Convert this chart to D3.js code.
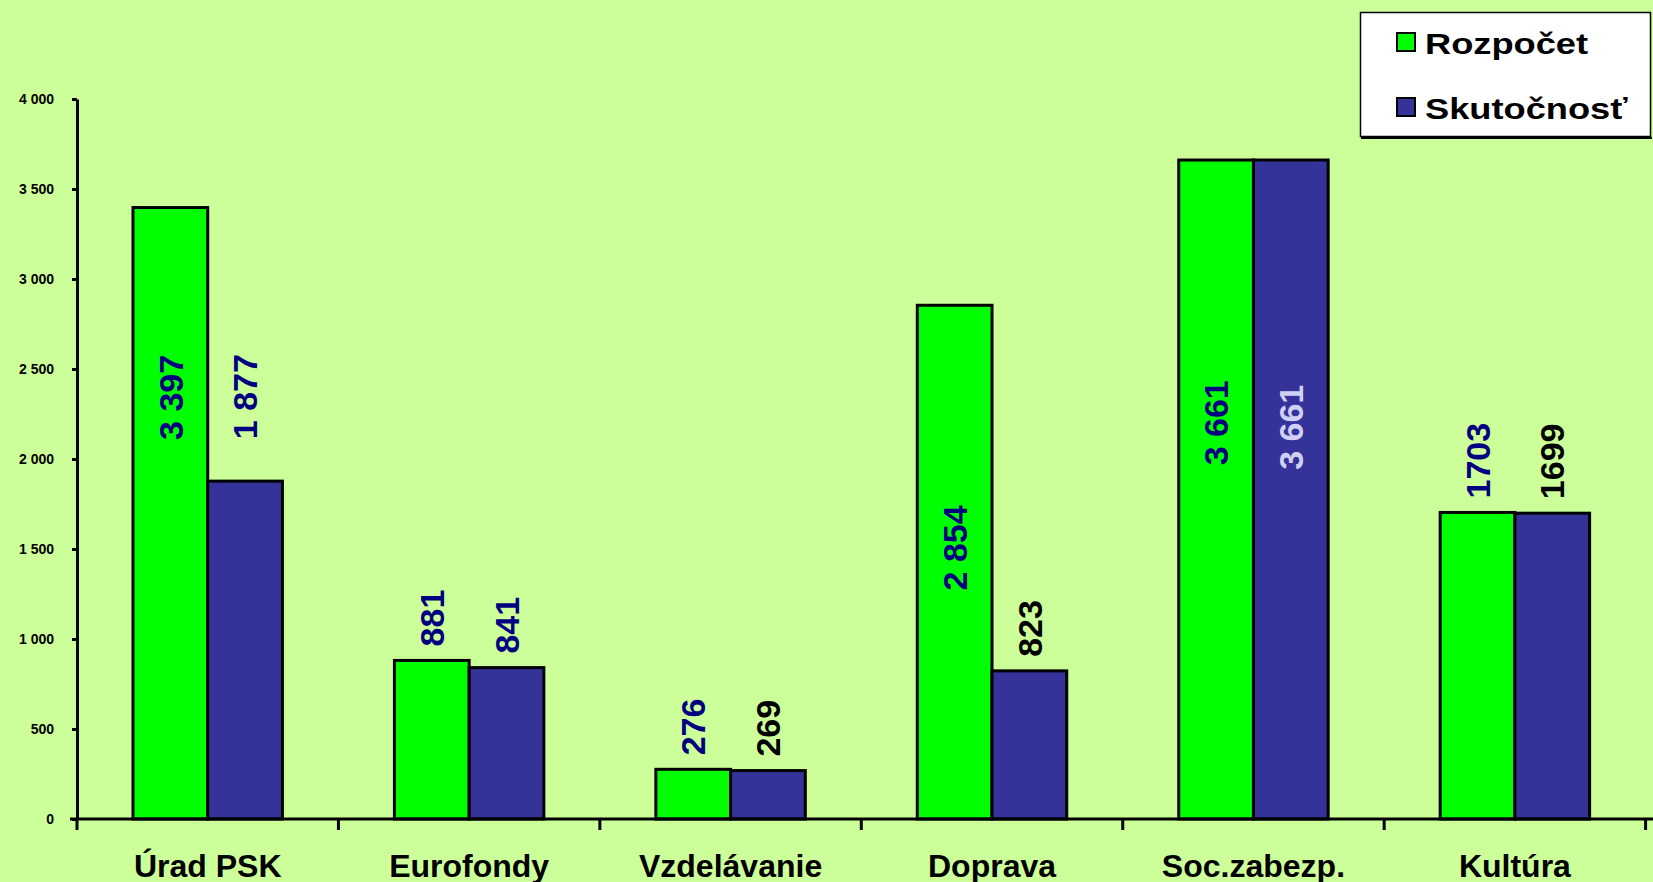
<!DOCTYPE html>
<html>
<head>
<meta charset="utf-8">
<script src="https://cdn.jsdelivr.net/npm/d3@7"></script>
<style>
  html, body { margin: 0; padding: 0; background: #ccff99; }
  svg { display: block; font-family: "Liberation Sans", Arial, sans-serif; }
</style>
</head>
<body>
<div id="container"></div>
<script>
// chart data
var categories = ["Úrad PSK", "Eurofondy", "Vzdelávanie", "Doprava", "Soc.zabezp.", "Kultúra"];
var seriesNames = ["Rozpočet", "Skutočnosť"];
var rozpocet = [3397, 881, 276, 2854, 3661, 1703];
var skutocnost = [1877, 841, 269, 823, 3661, 1699];
var rozpocetLabels = ["3 397", "881", "276", "2 854", "3 661", "1703"];
var skutocnostLabels = ["1 877", "841", "269", "823", "3 661", "1699"];
// value where a label starts (null = just above the bar)
var rozpocetLabelAt = [2106, null, null, 1270, 1965, null];
var skutocnostLabelAt = [2110, null, null, null, 1940, null];
var yTickValues = [0, 500, 1000, 1500, 2000, 2500, 3000, 3500, 4000];
var yTickLabels = ["0", "500", "1 000", "1 500", "2 000", "2 500", "3 000", "3 500", "4 000"];

// styles
var barColors = ["#00ff00", "#333399"];
var rozpocetLabelColors = ["#000080", "#000080", "#000080", "#000080", "#000080", "#000080"];
var skutocnostLabelColors = ["#000080", "#000080", "#000000", "#000000", "#d0d0f4", "#000000"];

var w = 1653;
var h = 882;

var svg = d3
  .select("#container")
  .append("svg")
  .attr("width", w)
  .attr("height", h);

svg.append("rect").attr("width", w).attr("height", h).attr("fill", "#ccff99");

// scales
var xScale = d3
  .scaleBand()
  .domain(categories)
  .range([77, 1645.6])
  .paddingInner(0.4284)
  .paddingOuter(0.2142);

var xSub = d3.scaleBand().domain(seriesNames).range([0, xScale.bandwidth()]);

var yScale = d3.scaleLinear().domain([0, 4000]).range([819, 99]);

// y axis
var yAxis = d3
  .axisLeft(yScale)
  .tickValues(yTickValues)
  .tickSize(5)
  .tickSizeOuter(0)
  .tickPadding(18)
  .tickFormat((d, i) => yTickLabels[i]);

var gy = svg.append("g").attr("transform", "translate(77, 0)").call(yAxis);
gy.select(".domain").attr("stroke", "#000").attr("stroke-width", 3);
gy.selectAll(".tick line").attr("stroke", "#000").attr("stroke-width", 3);
gy.selectAll(".tick text")
  .attr("fill", "#000")
  .style("font-size", "14px")
  .style("font-weight", "bold");

// bars
var rows = categories.map((c, i) => {
  return { cat: c, values: [rozpocet[i], skutocnost[i]] };
});

var groups = svg
  .selectAll(".group")
  .data(rows)
  .enter()
  .append("g")
  .attr("class", "group")
  .attr("transform", (d) => "translate(" + xScale(d.cat) + ",0)");

groups
  .selectAll("rect")
  .data((d) => d.values.map((v, k) => ({ s: seriesNames[k], k: k, v: v })))
  .enter()
  .append("rect")
  .attr("x", (d) => xSub(d.s))
  .attr("y", (d) => yScale(d.v))
  .attr("width", xSub.bandwidth())
  .attr("height", (d) => yScale(0) - yScale(d.v))
  .attr("fill", (d) => barColors[d.k])
  .attr("stroke", "#000")
  .attr("stroke-width", 3);

// x axis
svg
  .append("line")
  .attr("x1", 70)
  .attr("x2", w)
  .attr("y1", yScale(0))
  .attr("y2", yScale(0))
  .attr("stroke", "#000")
  .attr("stroke-width", 3);

var step = xScale.step();
var boundaries = d3.range(categories.length + 1).map((i) => 77 + i * step);
svg
  .selectAll(".xtick")
  .data(boundaries)
  .enter()
  .append("line")
  .attr("class", "xtick")
  .attr("x1", (d) => d)
  .attr("x2", (d) => d)
  .attr("y1", yScale(0))
  .attr("y2", yScale(0) + 11)
  .attr("stroke", "#000")
  .attr("stroke-width", 3);

svg
  .selectAll(".xlabel")
  .data(categories)
  .enter()
  .append("text")
  .attr("class", "xlabel")
  .attr("x", (d) => xScale(d) + xScale.bandwidth() / 2)
  .attr("y", 877)
  .attr("text-anchor", "middle")
  .style("font-size", "32px")
  .style("font-weight", "bold")
  .attr("fill", "#000")
  .text((d) => d);

// value labels, rotated
var labelSets = [
  { vals: rozpocet, texts: rozpocetLabels, at: rozpocetLabelAt, colors: rozpocetLabelColors },
  { vals: skutocnost, texts: skutocnostLabels, at: skutocnostLabelAt, colors: skutocnostLabelColors }
];

labelSets.forEach((set, k) => {
  categories.forEach((c, i) => {
    var cx = xScale(c) + xSub(seriesNames[k]) + xSub.bandwidth() / 2;
    var yStart = set.at[i] === null ? yScale(set.vals[i]) - 14 : yScale(set.at[i]);
    svg
      .append("text")
      .attr("transform", "translate(" + cx + "," + yStart + ") rotate(-90)")
      .attr("dy", "0.36em")
      .attr("text-anchor", "start")
      .style("font-size", "34px")
      .style("font-weight", "bold")
      .attr("fill", set.colors[i])
      .text(set.texts[i]);
  });
});

// legend
var legend = svg.append("g");
legend
  .append("rect")
  .attr("x", 1360.5)
  .attr("y", 12.5)
  .attr("width", 290)
  .attr("height", 124)
  .attr("fill", "#fff")
  .attr("stroke", "#000")
  .attr("stroke-width", 1.5);
legend
  .append("line")
  .attr("x1", 1361)
  .attr("x2", 1652)
  .attr("y1", 138)
  .attr("y2", 138)
  .attr("stroke", "#000")
  .attr("stroke-width", 2);

var legendRows = [52, 117];
seriesNames.forEach((s, k) => {
  legend
    .append("rect")
    .attr("x", 1397)
    .attr("y", legendRows[k] - 19)
    .attr("width", 18)
    .attr("height", 18)
    .attr("fill", barColors[k])
    .attr("stroke", "#000")
    .attr("stroke-width", 2);
  legend
    .append("text")
    .attr("transform", "translate(1425," + (legendRows[k] + 2) + ") scale(1.25,1)")
    .style("font-size", "29px")
    .style("font-weight", "bold")
    .attr("fill", "#000")
    .text(s);
});
</script>
</body>
</html>
